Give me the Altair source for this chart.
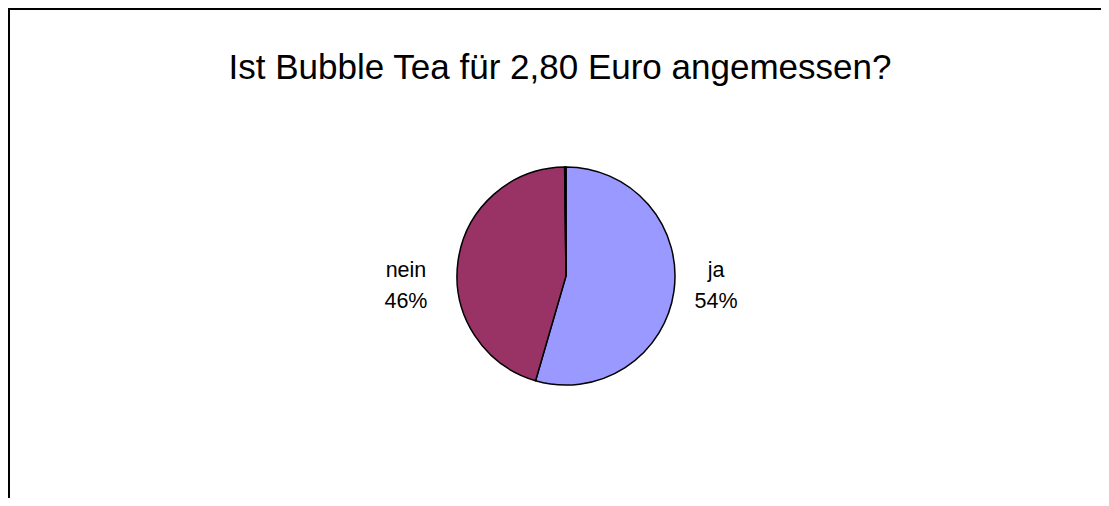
import altair as alt
import pandas as pd

TITLE = "Ist Bubble Tea für 2,80 Euro angemessen?"
categories = ["ja", "nein", ""]
values = [54.5, 45.3, 0.2]
pct_labels = ["54%", "46%", ""]
colors = ["#9999FF", "#993366", "#000000"]

df = pd.DataFrame({
    "cat": categories,
    "val": values,
    "pct": pct_labels,
    "ord": list(range(len(categories))),
})

W, H = 1093, 490
CX, CY = 558, 268
FONT = "Liberation Sans"

base = alt.Chart(df).transform_calculate(
    lbl="datum.cat + '\\n' + datum.pct"
)

theta = alt.Theta("val:Q", stack=True)
color = alt.Color("cat:N", scale=alt.Scale(domain=categories, range=colors), legend=None)

pie = base.mark_arc(outerRadius=109, stroke="black", strokeWidth=1.5).encode(
    theta=theta,
    color=color,
    order=alt.Order("ord:Q"),
    x=alt.value(CX),
    y=alt.value(CY),
)

def label_layer(cat, radius, dy):
    return base.mark_text(
        radius=radius, dy=dy, font=FONT, fontSize=21.5, lineBreak="\n",
        lineHeight=31, align="center", baseline="alphabetic", color="black"
    ).encode(
        theta=theta,
        order=alt.Order("ord:Q"),
        text=alt.condition(f"datum.cat == '{cat}'", alt.Text("lbl:N"), alt.value("")),
        x=alt.value(CX),
        y=alt.value(CY),
    )

lab_ja = label_layer("ja", 151.5, -20)
lab_nein = label_layer("nein", 161.5, 23)

one = alt.Data(values=[{"a": 1}])
title = alt.Chart(one).mark_text(
    font=FONT, fontSize=35, align="center", baseline="alphabetic", color="black"
).encode(x=alt.value(552), y=alt.value(71), text=alt.value(TITLE))

left_rule = alt.Chart(one).mark_rule(color="black", strokeWidth=2).encode(
    x=alt.value(1), y=alt.value(0), y2=alt.value(H)
)
top_rule = alt.Chart(one).mark_rule(color="black", strokeWidth=2).encode(
    y=alt.value(1), x=alt.value(0), x2=alt.value(W)
)

chart = alt.layer(left_rule, top_rule, title, pie, lab_ja, lab_nein).properties(
    width=W, height=H,
    autosize=alt.AutoSizeParams(type="none"),
    padding=0,
).configure_view(stroke=None).configure(background="white")

chart.save("out.html", embed_options={"renderer": "svg", "actions": False})
